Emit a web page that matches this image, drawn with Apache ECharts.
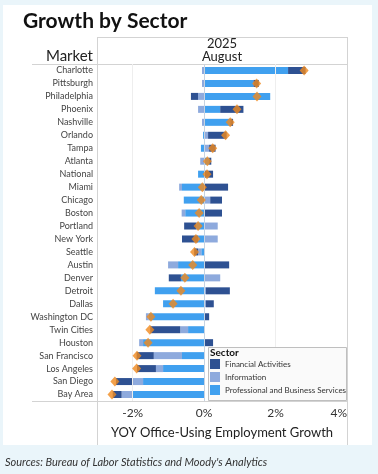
<!DOCTYPE html>
<html><head><meta charset="utf-8">
<script src="https://cdn.jsdelivr.net/npm/echarts@6/dist/echarts.min.js"></script>
<style>html,body{margin:0;padding:0;background:#eaf5fa;}#c{width:378px;height:474px;}</style>
</head><body><div id="c"></div>
<script>
const markets = ['Charlotte','Pittsburgh','Philadelphia','Phoenix','Nashville','Orlando','Tampa','Atlanta','National','Miami','Chicago','Boston','Portland','New York','Seattle','Austin','Denver','Detroit','Dallas','Washington DC','Twin Cities','Houston','San Francisco','Los Angeles','San Diego','Bay Area'];
const financial   = [0.49, 0.15, -0.20, 0.65, 0.08, 0.52, 0.18, 0.06, 0.25, 0.67, 0.33, 0.50, -0.34, -0.45, -0.11, 0.70, -0.34, 0.67, 0.22, 0.14, -0.84, 0.25, -0.48, -0.53, -0.48, -0.25];
const information = [-0.06, -0.06, -0.17, -0.17, -0.06, 0.11, 0.14, -0.11, 0.00, -0.08, 0.17, -0.10, 0.38, 0.38, -0.09, -0.28, 0.45, 0.05, 0.05, -0.08, -0.22, -0.11, -0.79, -0.20, -0.28, -0.31];
const professional= [2.35, 1.38, 1.85, 0.45, 0.73, -0.03, -0.09, 0.14, -0.17, -0.62, -0.57, -0.53, -0.22, -0.17, -0.08, -0.73, -0.65, -1.38, -1.15, -1.55, -0.45, -1.71, -0.62, -1.15, -1.71, -2.00];
const total       = [2.80, 1.47, 1.48, 0.92, 0.73, 0.60, 0.24, 0.09, 0.08, -0.05, -0.08, -0.14, -0.17, -0.23, -0.27, -0.32, -0.54, -0.65, -0.87, -1.49, -1.52, -1.57, -1.88, -1.89, -2.50, -2.58];
const tickLabels = {'-2':'-2%','0':'0%','2':'2%','4':'4%'};
const colors = {fin:'#2e5192', info:'#8eaadd', prof:'#40a0ef', dot:'#f0891e'};
const lineC = '#d3d3d3';
const FONT = 'Lato';

const chart = echarts.init(document.getElementById('c'), null, {renderer:'canvas'});
const barW = 7;
chart.setOption({
  animation:false,
  textStyle:{fontFamily:FONT},
  grid:{left:97, right:31, top:64, bottom:73},
  xAxis:{type:'value', min:-3, max:4, interval:1,
    axisLine:{show:false}, axisTick:{show:false}, splitLine:{show:false},
    axisLabel:{fontSize:12, color:'#333', margin:6, fontFamily:FONT, alignMaxLabel:'right',
      formatter:v=>tickLabels[String(v)]||''}},
  yAxis:{type:'category', data:markets, inverse:true,
    axisLine:{show:false}, axisTick:{show:false},
    axisLabel:{fontSize:9, color:'#444', margin:4, fontFamily:FONT}},
  legend:{data:['Financial Activities','Information','Professional and Business Services'],
    z:100, zlevel:0,
    orient:'vertical', left:210, top:359, itemWidth:10, itemHeight:10, itemGap:3, icon:'rect',
    padding:0, textStyle:{fontSize:8, color:'#333', fontFamily:FONT}, selectedMode:false},
  series:[
    {name:'Professional and Business Services', type:'bar', stack:'s', data:professional, barWidth:barW,
      itemStyle:{color:colors.prof},
      markLine:{silent:true, symbol:'none', label:{show:false},
        data:[{xAxis:-2, lineStyle:{color:'#eeeeee', width:1, type:'solid'}},
              {xAxis:2, lineStyle:{color:'#eeeeee', width:1, type:'solid'}},
              {xAxis:0, lineStyle:{color:'#c6d3e2', width:1, type:'solid'}}]}},
    {name:'Information', type:'bar', stack:'s', data:information, barWidth:barW, itemStyle:{color:colors.info}},
    {name:'Financial Activities', type:'bar', stack:'s', data:financial, barWidth:barW, itemStyle:{color:colors.fin}},
    {name:'Total', type:'scatter', data:total, symbol:'diamond', symbolSize:[9,10], z:5,
      itemStyle:{color:colors.dot}}
  ],
  graphic:[
    {type:'rect', z:-10, shape:{x:3, y:5, width:369, height:440}, style:{fill:'#ffffff'}},
    {type:'text', left:23, top:11, style:{text:'Growth by Sector', fontSize:21, fontWeight:'bold', fill:'#111', fontFamily:FONT}},
    {type:'text', x:222, y:44, style:{text:'2025', fontSize:13, fill:'#222', align:'center', verticalAlign:'middle', fontFamily:FONT}},
    {type:'text', x:222, y:57, style:{text:'August', fontSize:13, fill:'#222', align:'center', verticalAlign:'middle', fontFamily:FONT}},
    {type:'text', x:93, y:56, style:{text:'Market', fontSize:15, fill:'#222', align:'right', verticalAlign:'middle', fontFamily:FONT}},
    {type:'line', shape:{x1:97, y1:37.5, x2:347, y2:37.5}, style:{stroke:lineC, lineWidth:1}},
    {type:'line', shape:{x1:32, y1:64.5, x2:347, y2:64.5}, style:{stroke:lineC, lineWidth:1}},
    {type:'line', shape:{x1:32, y1:401.5, x2:347, y2:401.5}, style:{stroke:lineC, lineWidth:1}},
    {type:'line', shape:{x1:97.5, y1:37, x2:97.5, y2:445}, style:{stroke:lineC, lineWidth:1}},
    {type:'line', shape:{x1:347.5, y1:37, x2:347.5, y2:445}, style:{stroke:lineC, lineWidth:1}},
    {type:'text', x:222, y:433, style:{text:'YOY Office-Using Employment Growth', fontSize:13, fill:'#222', align:'center', verticalAlign:'middle', fontFamily:FONT}},
    {type:'text', x:5, y:462, style:{text:"Sources: Bureau of Labor Statistics and Moody's Analytics", fontSize:11, fontStyle:'italic', fill:'#333', verticalAlign:'middle', fontFamily:FONT}},
    {type:'rect', z:50, shape:{x:208.5, y:347.5, width:138, height:53}, style:{fill:'rgba(250,250,250,0.95)', stroke:'#bfbfbf', lineWidth:1}},
    {type:'text', z:51, x:210, y:353, style:{text:'Sector', fontSize:10, fontWeight:'bold', fill:'#111', verticalAlign:'middle', fontFamily:FONT}}
  ]
});
</script></body></html>
